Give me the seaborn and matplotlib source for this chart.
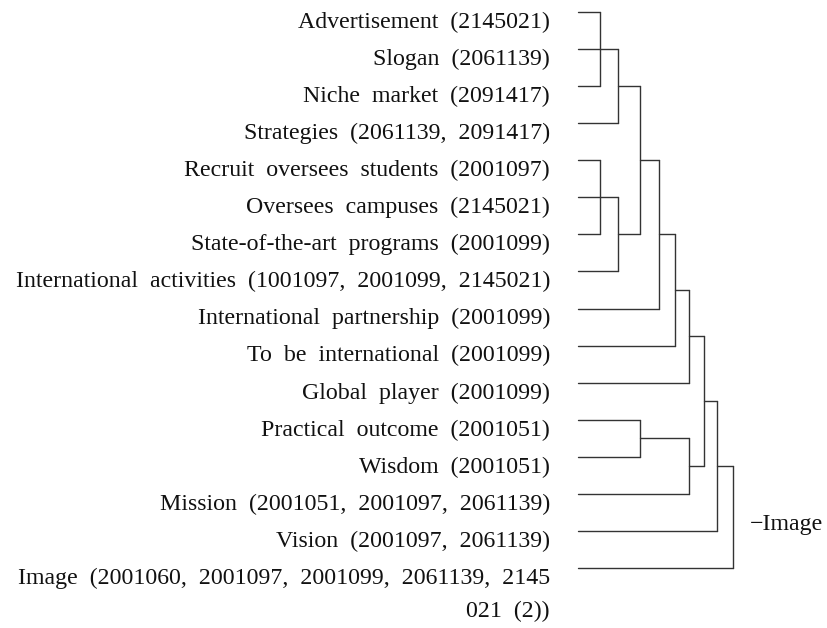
import numpy as np
import pandas as pd
import matplotlib
matplotlib.use("Agg")
import matplotlib.pyplot as plt
import seaborn as sns

# leaf labels, top to bottom
labels = [
    "Advertisement (2145021)",
    "Slogan (2061139)",
    "Niche market (2091417)",
    "Strategies (2061139, 2091417)",
    "Recruit oversees students (2001097)",
    "Oversees campuses (2145021)",
    "State-of-the-art programs (2001099)",
    "International activities (1001097, 2001099, 2145021)",
    "International partnership (2001099)",
    "To be international (2001099)",
    "Global player (2001099)",
    "Practical outcome (2001051)",
    "Wisdom (2001051)",
    "Mission (2001051, 2001097, 2061139)",
    "Vision (2001097, 2061139)",
    "Image (2001060, 2001097, 2001099, 2061139, 2145\n021 (2))",
]

# merges: children (leaf index or earlier merge id = 16 + k) and join distance
merge_children = [
    [0, 1, 2], [16, 3], [4, 5, 6], [18, 7], [17, 19], [20, 8], [21, 9],
    [22, 10], [11, 12], [24, 13], [23, 25], [26, 14], [27, 15],
]
merge_height = [0.22, 0.40, 0.22, 0.40, 0.62, 0.81, 0.97,
                1.11, 0.62, 1.11, 1.26, 1.39, 1.55]
root_label = "\u2212Image"

n = len(labels)
node_y = {i: float(i) for i in range(n)}
node_h = {i: 0.0 for i in range(n)}
rows = []
seg = 0
for k, (kids, h) in enumerate(zip(merge_children, merge_height)):
    for c in kids:
        rows += [(seg, node_h[c], node_y[c]), (seg, h, node_y[c])]
        seg += 1
    ys = [node_y[c] for c in kids]
    rows += [(seg, h, min(ys)), (seg, h, max(ys))]
    seg += 1
    node_y[n + k] = float(np.mean(ys))
    node_h[n + k] = h
segs = pd.DataFrame(rows, columns=["seg", "dist", "row"])

sns.set_style("white")
plt.rcParams["font.family"] = ["Liberation Serif", "DejaVu Serif"]

fig = plt.figure(figsize=(8.27, 6.28), dpi=100)
ax = fig.add_axes([0, 0, 1, 1])
sns.lineplot(data=segs, x="dist", y="row", units="seg", estimator=None,
             sort=False, color="#333333", linewidth=1.0, legend=False, ax=ax)

# the source is typeset with wide word spacing
for i, lab in enumerate(labels):
    for j, part in enumerate(lab.split("\n")):
        ax.text(-0.28, i + 0.43 + j * 0.89, part.replace(" ", "  "),
                ha="right", va="baseline", fontsize=17.2, color="#111111")

root = n + len(merge_children) - 1
ax.text(node_h[root] + 0.17, node_y[root] + 0.19, root_label, ha="left",
        va="center", fontsize=17.2, color="#111111")

ax.set_xlim(-5.78, 2.49)
ax.set_ylim(16.62, -0.324)
ax.axis("off")
fig.savefig("out.png", dpi=100)
